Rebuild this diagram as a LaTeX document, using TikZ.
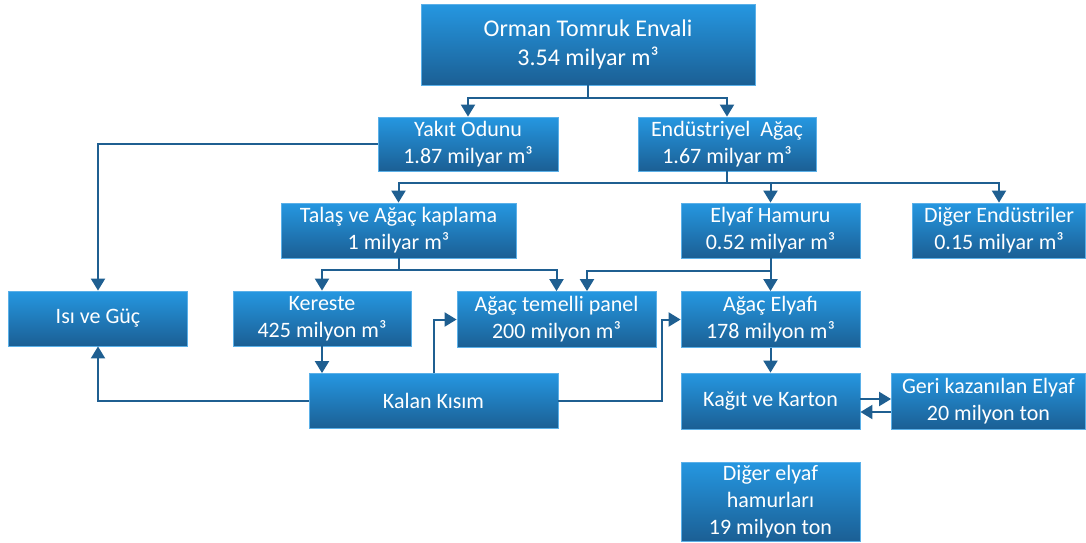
\documentclass[tikz,border=0pt]{standalone}
\usepackage{fontspec}
\setmainfont{Carlito}
\usetikzlibrary{arrows.meta}

\definecolor{boxtop}{HTML}{2597E1}
\definecolor{boxbottom}{HTML}{1B5F94}
\definecolor{boxedge}{HTML}{5BB0E8}
\definecolor{flowline}{HTML}{1F5F91}

\tikzset{
  flowbox/.style={draw=boxedge, line width=0.8pt, top color=boxtop, bottom color=boxbottom,
    text=white, align=center, inner sep=2pt, font=\fontsize{22}{27}\selectfont},
  flowarrow/.style={draw=flowline, line width=2pt, -{Triangle[length=12pt,width=14pt]}}
}

\begin{document}
\begin{tikzpicture}[x=1pt, y=-1pt]
			\useasboundingbox (0,0) rectangle (1086,542);
			
			% Boxes
			\node[flowbox, minimum width=334, minimum height=81, font=\fontsize{24}{29}\selectfont] (orman) at (588,44.5) {Orman Tomruk Envali\\3.54 milyar m³};
			\node[flowbox, minimum width=180, minimum height=54] (yakit) at (468,144) {Yakıt Odunu\\1.87 milyar m³};
			\node[flowbox, minimum width=178, minimum height=54] (endustri) at (727,144) {Endüstriyel\ \ Ağaç\\1.67 milyar m³};
			\node[flowbox, minimum width=235, minimum height=55] (talas) at (398.5,230.5) {Talaş ve Ağaç kaplama\\1 milyar m³};
			\node[flowbox, minimum width=179, minimum height=55] (hamur) at (770.5,230.5) {Elyaf Hamuru\\0.52 milyar m³};
			\node[flowbox, minimum width=173, minimum height=55] (diger) at (999,230.5) {Diğer Endüstriler\\0.15 milyar m³};
			\node[flowbox, minimum width=179, minimum height=55] (isi) at (98,318.5) {Isı ve Güç};
			\node[flowbox, minimum width=178, minimum height=55] (kereste) at (322,318.5) {Kereste\\425 milyon m³};
			\node[flowbox, minimum width=199, minimum height=56] (panel) at (556.5,319.5) {Ağaç temelli panel\\200 milyon m³};
			\node[flowbox, minimum width=179, minimum height=56] (elyafi) at (770.5,319.5) {Ağaç Elyafı\\178 milyon m³};
			\node[flowbox, minimum width=249, minimum height=55] (kalan) at (433.5,401) {Kalan Kısım};
			\node[flowbox, minimum width=179, minimum height=56] (kagit) at (770.5,401) {Kağıt ve Karton};
			\node[flowbox, minimum width=194, minimum height=56] (geri) at (988.5,401) {Geri kazanılan Elyaf\\20 milyon ton};
			\node[flowbox, minimum width=179, minimum height=79] (digerelyaf) at (770.5,501.5) {Diğer elyaf\\hamurları\\19 milyon ton};
			
			% Branches from the log inventory
			\foreach \target in {yakit, endustri} {
				\draw[flowarrow] (orman.south) -- ++(0,13) -| (\target.north);
			}
			\foreach \target in {talas, hamur, diger} {
				\draw[flowarrow] (endustri.south) -- ++(0,12) -| (\target.north);
			}
			\draw[flowarrow] (yakit.west) -| (isi.north);
			
			% Sawn wood and panels
			\draw[flowarrow] (talas.south) -- ++(0,12) -| (kereste.north);
			\draw[flowarrow] (talas.south) -- ++(0,12) -| (panel.north);
			\draw[flowarrow] (hamur.south) -- ++(0,13) -| ([xshift=30.5pt]panel.north);
			\draw[flowarrow] (hamur.south) -- (elyafi.north);
			\draw[flowarrow] (kereste.south) -- (kereste.south |- kalan.north);
			
			% Residues
			\draw[flowarrow] (kalan.north) |- (panel.west);
			\draw[flowarrow] (kalan.west) -| (isi.south);
			\draw[flowarrow] (kalan.east) -- ++(104,0) |- (elyafi.west);
			
			% Paper and recovered fibre
			\draw[flowarrow] (elyafi.south) -- (kagit.north);
			\draw[flowarrow] ([yshift=2pt]kagit.east) -- ([yshift=2pt]geri.west);
			\draw[flowarrow] ([yshift=-11pt]geri.west) -- ([yshift=-11pt]kagit.east);
			
		\end{tikzpicture}
\end{document}
